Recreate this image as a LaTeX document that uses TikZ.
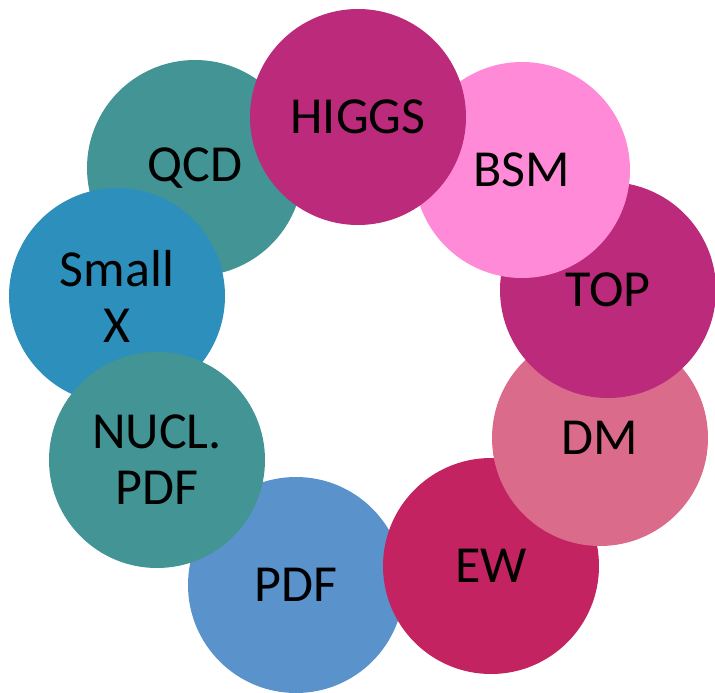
\documentclass[tikz,border=0pt]{standalone}
\usepackage{fontspec}
\setmainfont{Carlito}
\definecolor{cHiggs}{HTML}{BC2A7C}
\definecolor{cBsm}{HTML}{FF8AD8}
\definecolor{cTop}{HTML}{BC2A7C}
\definecolor{cDm}{HTML}{DB6B8A}
\definecolor{cEw}{HTML}{C42361}
\definecolor{cPdf}{HTML}{5A93CB}
\definecolor{cNucl}{HTML}{429495}
\definecolor{cSmallx}{HTML}{2D8FBB}
\definecolor{cQcd}{HTML}{429495}
\tikzset{
  topic/.style={circle, minimum size=216pt, inner sep=0pt, fill=#1, draw=none,
    text=black, align=center, font=\fontsize{52}{56}\selectfont}
}
\begin{document}
\begin{tikzpicture}[x=1pt, y=-1pt]
  \useasboundingbox (0,0) rectangle (715,693);
  % ring of topics, later nodes overlap earlier ones
  \node[topic=cPdf]    (pdf)    at (296,585) {PDF};
  \node[topic=cEw]     (ew)     at (491,566) {EW};
  \node[topic=cDm]     (dm)     at (600,438) {DM};
  \node[topic=cTop]    (top)    at (608,290) {TOP};
  \node[topic=cBsm]    (bsm)    at (522,170) {BSM};
  \node[topic=cQcd]    (qcd)    at (195,168) {QCD};
  \node[topic=cSmallx] (smallx) at (117,296) {Small\\X};
  \node[topic=cNucl]   (nucl)   at (157,460) {NUCL.\\PDF};
  \node[topic=cHiggs]  (higgs)  at (358,117) {HIGGS};
\end{tikzpicture}
\end{document}
